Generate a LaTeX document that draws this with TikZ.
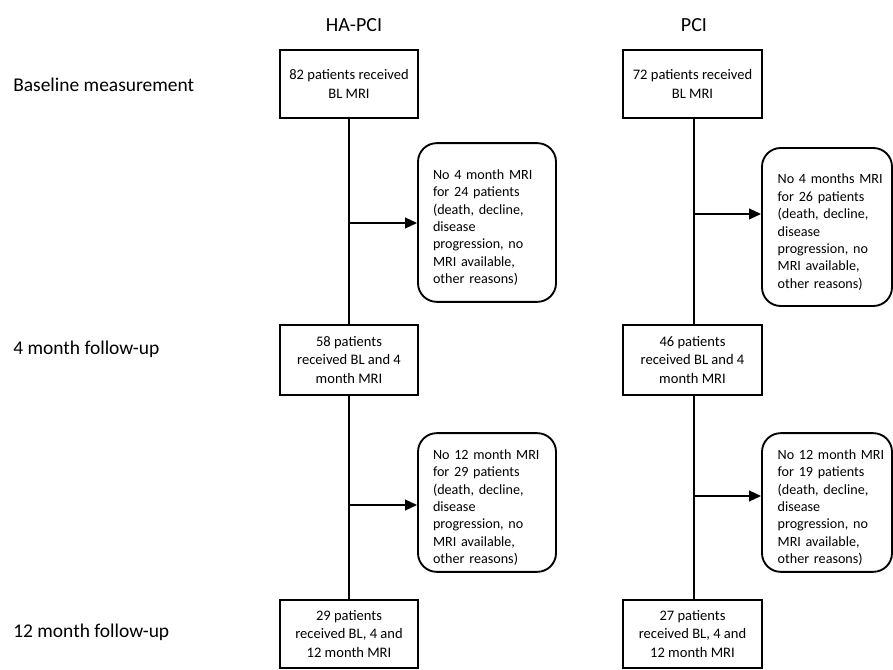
\documentclass[tikz,border=0pt]{standalone}
\usepackage{fontspec}
\setmainfont{Carlito}
\usetikzlibrary{arrows.meta}

\begin{document}
\begin{tikzpicture}[x=.75pt,y=-.75pt,>={Triangle[length=9pt,width=8pt]},line join=miter,
  stage/.style={font=\fontsize{14.6}{17}\selectfont,anchor=west,inner sep=0pt},
  arm/.style={font=\fontsize{15}{17}\selectfont,inner sep=0pt},
  box/.style={draw,line width=1.4pt,align=center,minimum width=103.5pt,minimum height=51pt,
    inner sep=2pt,font=\fontsize{10.9}{13.8}\selectfont},
  reason/.style={draw,line width=1.4pt,rounded corners=14pt,align=left,text width=92.5pt,
    inner xsep=5.5pt,font=\fontsize{10.6}{13.1}\selectfont,
    execute at begin node={\leftskip=5.75pt\rule{0pt}{15pt}}},
  reasonr/.style={reason,text width=91pt,inner xsep=3.25pt,
    execute at begin node={\leftskip=8.5pt\rule{0pt}{14pt}}},
  flow/.style={line width=1.4pt}]
  \useasboundingbox (0,0) rectangle (893,670);

  % row labels and arm titles
  \node[stage] (bl) at (13,85) {Baseline measurement};
  \node[stage] (fu4) at (13,349) {4 month follow-up};
  \node[stage] (fu12) at (13,632) {12 month follow-up};
  \node[arm] (ha) at (354,25) {HA-PCI};
  \node[arm] (pci) at (694,25) {PCI};

  % HA-PCI arm
  \node[box] (ha0) at (349,84) {82 patients received\\BL MRI};
  \node[box,minimum height=52.5pt] (ha4) at (349,360) {58 patients\\received BL and 4\\month MRI};
  \node[box] (ha12) at (349,634) {29 patients\\received BL, 4 and\\12 month MRI};
  \node[reason,minimum height=119pt] (hax4) at (487,222.5) {No 4 month MRI\\for 24 patients\\(death, decline,\\disease\\progression, no\\MRI available,\\other reasons)};
  \node[reason,minimum height=104pt] (hax12) at (487,502.5) {No 12 month MRI\\for 29 patients\\(death, decline,\\disease\\progression, no\\MRI available,\\other reasons)};

  % PCI arm
  \node[box,minimum width=104.25pt] (pci0) at (692.5,84) {72 patients received\\BL MRI};
  \node[box,minimum width=104.25pt,minimum height=52.5pt] (pci4) at (692.5,360) {46 patients\\received BL and 4\\month MRI};
  \node[box,minimum width=104.25pt] (pci12) at (692.5,634) {27 patients\\received BL, 4 and\\12 month MRI};
  \node[reasonr,minimum height=118.5pt] (pcix4) at (827,227) {No 4 months MRI\\for 26 patients\\(death, decline,\\disease\\progression, no\\MRI available,\\other reasons)};
  \node[reasonr,minimum height=104pt] (pcix12) at (827,502.5) {No 12 month MRI\\for 19 patients\\(death, decline,\\disease\\progression, no\\MRI available,\\other reasons)};

  % connectors
  \coordinate (hs4) at (349,223);
  \coordinate (hs12) at (349,505);
  \coordinate (ps4) at (694,214);
  \coordinate (ps12) at (694,496);
  \draw[flow] (ha0) -- (ha4);
  \draw[flow] (ha4) -- (ha12);
  \draw[flow] (pci0.south -| ps4) -- (pci4.north -| ps4);
  \draw[flow] (pci4.south -| ps4) -- (pci12.north -| ps4);
  \draw[flow,->] (hs4) -- (hs4 -| hax4.west);
  \draw[flow,->] (hs12) -- (hs12 -| hax12.west);
  \draw[flow,->] (ps4) -- (ps4 -| pcix4.west);
  \draw[flow,->] (ps12) -- (ps12 -| pcix12.west);
\end{tikzpicture}
\end{document}
